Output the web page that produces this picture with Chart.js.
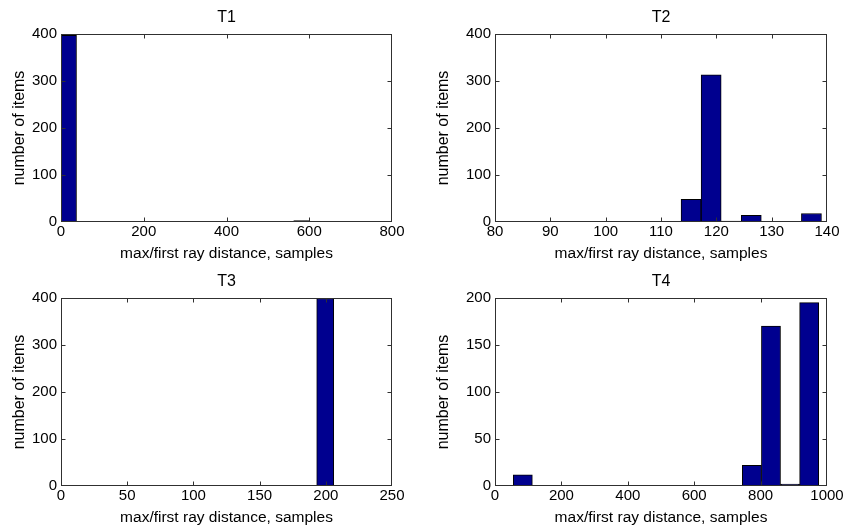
<!DOCTYPE html>
<html>
<head>
<meta charset="utf-8">
<script src="https://cdn.jsdelivr.net/npm/chart.js@4/dist/chart.umd.min.js"></script>
<style>
  html, body { margin: 0; padding: 0; background: #fff; }
  #wrap { position: relative; width: 849px; height: 529px; overflow: hidden; }
  canvas { position: absolute; }
</style>
</head>
<body>
<div id="wrap">
  <canvas id="t1" width="424" height="264" style="left:0;top:0"></canvas>
  <canvas id="t2" width="425" height="264" style="left:424px;top:0"></canvas>
  <canvas id="t3" width="424" height="264" style="left:0;top:264px"></canvas>
  <canvas id="t4" width="425" height="264" style="left:424px;top:264px"></canvas>
</div>
<script>
// histogram bins (centres) and counts
const t1Centers = [18.75, 56.25, 93.75, 131.25, 168.75, 206.25, 243.75, 281.25, 318.75, 356.25, 393.75, 431.25, 468.75, 506.25, 543.75, 581.25];
const t1Counts  = [397, 0, 0, 0, 0, 0, 0, 0, 0, 0, 0, 0, 0, 0, 0, 3];

const t2Centers = [82.8125, 86.4375, 90.0625, 93.6875, 97.3125, 100.9375, 104.5625, 108.1875, 111.8125, 115.4375, 119.0625, 122.6875, 126.3125, 129.9375, 133.5625, 137.1875];
const t2Counts  = [1, 1, 0, 0, 0, 1, 0, 0, 0, 48, 313, 2, 14, 0, 0, 18];

const t3Centers = [6.4375, 19.3125, 32.1875, 45.0625, 57.9375, 70.8125, 83.6875, 96.5625, 109.4375, 122.3125, 135.1875, 148.0625, 160.9375, 173.8125, 186.6875, 199.5625];
const t3Counts  = [1, 0, 0, 0, 0, 0, 0, 0, 0, 0, 0, 0, 0, 0, 0, 399];

const t4Centers = [83.75, 141.25, 198.75, 256.25, 313.75, 371.25, 428.75, 486.25, 543.75, 601.25, 658.75, 716.25, 773.75, 831.25, 888.75, 946.25];
const t4Counts  = [12, 0, 0, 0, 0, 0, 0, 0, 0, 0, 0, 0, 22, 170, 2, 195];

// axis limits / ticks
const xLimits = { t1: [0, 800, 200], t2: [80, 140, 10], t3: [0, 250, 50], t4: [0, 1000, 200] };
const yLimits = { t1: [0, 400, 100], t2: [0, 400, 100], t3: [0, 400, 100], t4: [0, 200, 50] };

const xLabel = 'max/first ray distance, samples';
const yLabel = 'number of items';
const FONT = "'Liberation Sans', Arial, Helvetica, sans-serif";

// matlab-like box with inward ticks on all sides
const boxTicks = {
    id: 'boxTicks',
    afterDatasetsDraw(chart) {
        const { ctx, chartArea: a, scales: { x, y } } = chart;
        const L = Math.round(a.left) + 0.5, R = Math.round(a.right) - 0.5;
        const T = Math.round(a.top) + 0.5, B = Math.round(a.bottom) - 0.5;
        ctx.save();
        ctx.strokeStyle = '#303030';
        ctx.lineWidth = 1;
        ctx.beginPath();
        x.ticks.forEach(t => {
            const px = Math.round(x.getPixelForValue(t.value)) + 0.5;
            if (px < L + 2 || px > R - 2) return;
            ctx.moveTo(px, B); ctx.lineTo(px, B - 4);
            ctx.moveTo(px, T); ctx.lineTo(px, T + 4);
        });
        y.ticks.forEach(t => {
            const py = Math.round(y.getPixelForValue(t.value)) + 0.5;
            if (py < T + 2 || py > B - 2) return;
            ctx.moveTo(L, py); ctx.lineTo(L + 4, py);
            ctx.moveTo(R, py); ctx.lineTo(R - 4, py);
        });
        ctx.stroke();
        ctx.strokeRect(L, T, R - L, B - T);
        ctx.restore();
    }
};

function makeHist(id, title, centers, counts, leftW, rightPad) {
    const [xmin, xmax, xstep] = xLimits[id];
    const [ymin, ymax, ystep] = yLimits[id];
    const points = centers.map((c, i) => ({ x: c, y: counts[i] }));
    return new Chart(document.getElementById(id), {
        type: 'bar',
        data: {
            datasets: [{
                data: points,
                backgroundColor: '#00008F',
                borderColor: '#000000',
                borderWidth: 1,
                borderSkipped: false,
                barPercentage: 1,
                categoryPercentage: 1,
                minBarLength: 0
            }]
        },
        options: {
            responsive: false,
            animation: false,
            devicePixelRatio: 1,
            layout: { padding: { left: 0, right: rightPad, top: 0, bottom: 0 } },
            plugins: {
                legend: { display: false },
                tooltip: { enabled: false },
                title: {
                    display: true,
                    text: title,
                    fullSize: false,
                    color: '#000',
                    font: { family: FONT, size: 16, weight: 'normal' },
                    padding: { top: 8, bottom: 6.8 }
                }
            },
            scales: {
                x: {
                    type: 'linear',
                    min: xmin, max: xmax,
                    offset: false,
                    grid: { display: false, drawTicks: false },
                    border: { display: false },
                    ticks: {
                        stepSize: xstep, autoSkip: false, maxRotation: 0,
                        padding: 1, color: '#000',
                        font: { family: FONT, size: 15 },
                        callback: v => String(v)
                    },
                    title: {
                        display: true, text: xLabel, color: '#000',
                        font: { family: FONT, size: 15.5 },
                        padding: { top: 0, bottom: 1 }
                    },
                    afterFit(scale) { scale.height = 42; }
                },
                y: {
                    min: ymin, max: ymax,
                    grid: { display: false, drawTicks: false },
                    border: { display: false },
                    ticks: {
                        stepSize: ystep, padding: 4, color: '#000',
                        font: { family: FONT, size: 15 },
                        callback: v => String(v)
                    },
                    title: {
                        display: true, text: yLabel, color: '#000',
                        font: { family: FONT, size: 16 },
                        padding: { top: 10, bottom: 0 }
                    },
                    afterFit(scale) { scale.width = leftW; }
                }
            }
        },
        plugins: [boxTicks]
    });
}

makeHist('t1', 'T1', t1Centers, t1Counts, 61, 32);
makeHist('t2', 'T2', t2Centers, t2Counts, 71, 22);
makeHist('t3', 'T3', t3Centers, t3Counts, 61, 32);
makeHist('t4', 'T4', t4Centers, t4Counts, 71, 22);
</script>
</body>
</html>
